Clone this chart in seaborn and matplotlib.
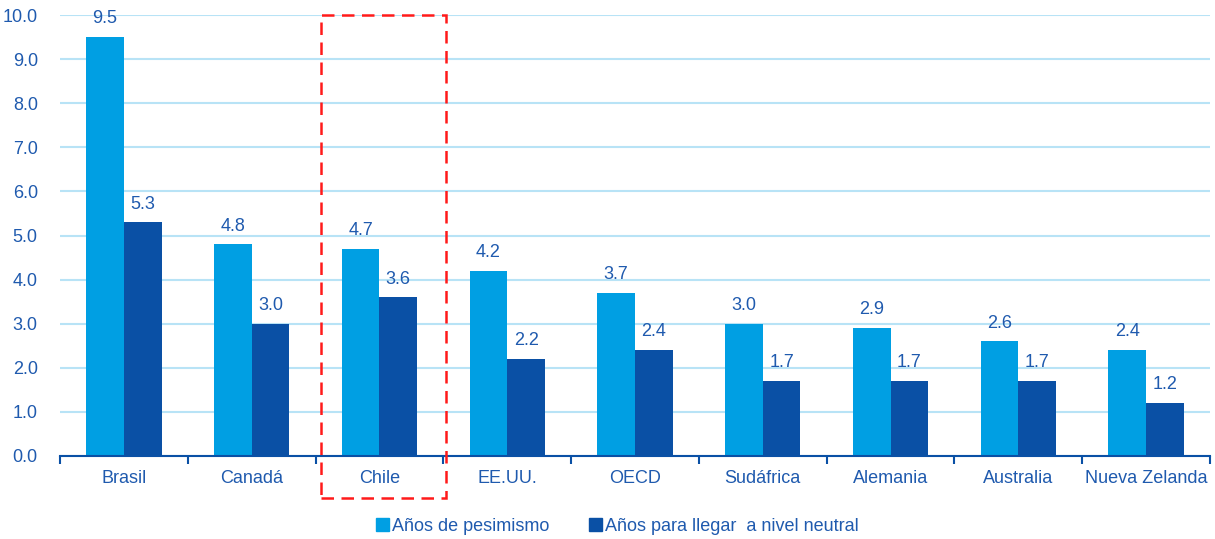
import matplotlib
matplotlib.use("Agg")
import matplotlib.pyplot as plt
import matplotlib.patches as mpatches
from matplotlib.patches import Rectangle
import pandas as pd
import seaborn as sns

# Country groups and the two series
paises = ["Brasil", "Canadá", "Chile", "EE.UU.", "OECD", "Sudáfrica",
          "Alemania", "Australia", "Nueva Zelanda"]
anos_pesimismo = [9.5, 4.8, 4.7, 4.2, 3.7, 3.0, 2.9, 2.6, 2.4]
anos_neutral = [5.3, 3.0, 3.6, 2.2, 2.4, 1.7, 1.7, 1.7, 1.2]
series = ["Años de pesimismo", "Años para llegar  a nivel neutral"]
y_ticks = [0.0, 1.0, 2.0, 3.0, 4.0, 5.0, 6.0, 7.0, 8.0, 9.0, 10.0]

LIGHT = "#009FE3"
DARK = "#0A50A5"
TEXT = "#1F5AAE"
GRID = "#B8E3F6"
FS = 13

df = pd.DataFrame({
    "pais": paises * 2,
    "serie": [series[0]] * len(paises) + [series[1]] * len(paises),
    "valor": anos_pesimismo + anos_neutral,
})

sns.set_theme(style="white")
plt.rcParams["font.family"] = ["Liberation Sans", "DejaVu Sans"]

fig = plt.figure(figsize=(12.15, 5.39), dpi=100)
ax = fig.add_axes([0.0494, 0.154, 0.9465, 0.818])

sns.barplot(data=df, x="pais", y="valor", hue="serie", order=paises,
            hue_order=series, palette=[LIGHT, DARK], width=0.59, gap=0,
            saturation=1, linewidth=0, legend=False, ax=ax)

for cont in ax.containers:
    ax.bar_label(cont, fmt="%.1f", padding=7, color=TEXT, fontsize=FS)

ax.set_ylim(0, 10)
ax.set_xlim(-0.5, len(paises) - 0.5)
ax.set_yticks(y_ticks)
ax.set_yticklabels([f"{v:.1f}" for v in y_ticks], color=TEXT, fontsize=FS)
ax.yaxis.grid(True, color=GRID, linewidth=1.5)
ax.set_axisbelow(True)
ax.tick_params(axis="y", length=0, pad=16)

# Category ticks sit on the boundaries between groups
ax.set_xticks([i - 0.5 for i in range(len(paises) + 1)], minor=True)
ax.set_xticks(range(len(paises)))
ax.set_xticklabels(paises, color=TEXT, fontsize=FS)
ax.tick_params(axis="x", which="major", bottom=False, length=0, pad=10)
ax.tick_params(axis="x", which="minor", bottom=True, length=6, width=1.5,
               color=DARK, direction="out")
ax.set_xlabel("")
ax.set_ylabel("")

for s in ["top", "right", "left"]:
    ax.spines[s].set_visible(False)
ax.spines["bottom"].set_color(DARK)
ax.spines["bottom"].set_linewidth(1.5)

# Highlight box around Chile
ax.add_patch(Rectangle((1.54, -0.95), 0.98, 10.95, fill=False,
                       edgecolor="#FF1A1A", linestyle=(0, (5, 3)),
                       linewidth=1.8, clip_on=False, zorder=5))

handles = [mpatches.Patch(color=LIGHT, label=series[0]),
           mpatches.Patch(color=DARK, label=series[1])]
fig.legend(handles=handles, loc="center", bbox_to_anchor=(0.508, 0.023),
           ncol=2, frameon=False, fontsize=FS, labelcolor=TEXT,
           handlelength=0.75, handleheight=0.75, handletextpad=0.15,
           columnspacing=2.2)

fig.savefig("out.png", dpi=100)
